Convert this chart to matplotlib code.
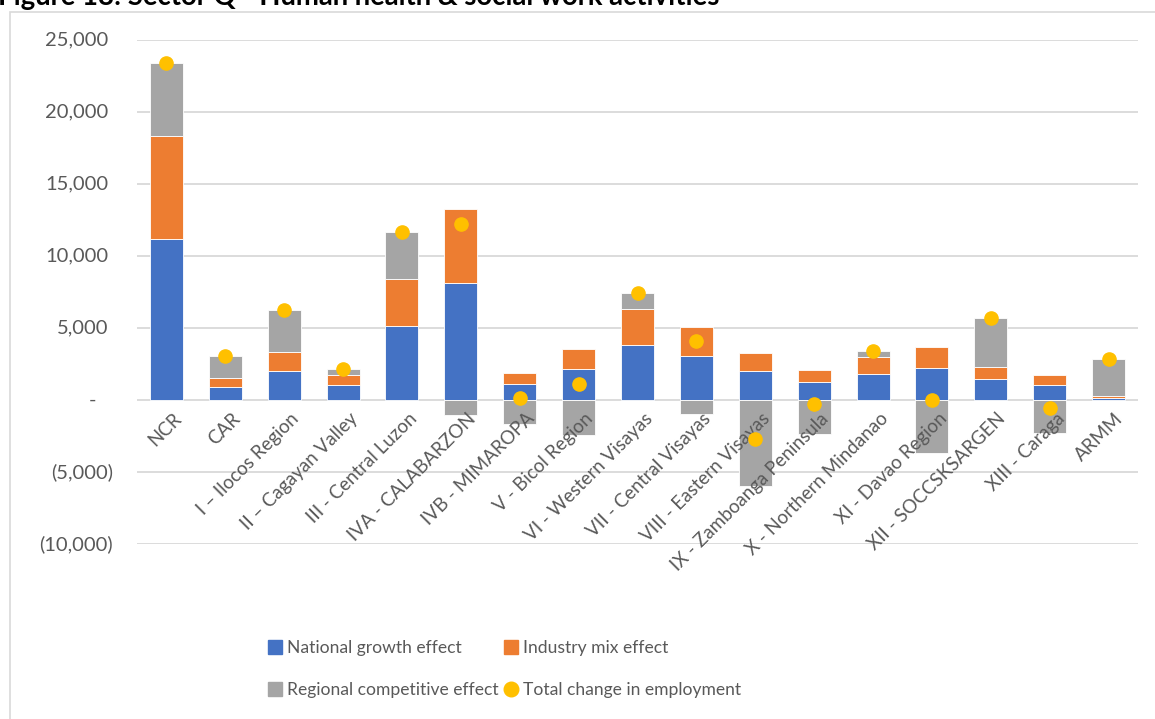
import matplotlib
matplotlib.use("Agg")
import matplotlib.pyplot as plt
import numpy as np
from matplotlib.lines import Line2D
from matplotlib.patches import Rectangle

categories = ["NCR", "CAR", "I – Ilocos Region", "II – Cagayan Valley", "III - Central Luzon",
              "IVA - CALABARZON", "IVB - MIMAROPA", "V - Bicol Region", "VI - Western Visayas",
              "VII - Central Visayas", "VIII - Eastern Visayas", "IX - Zamboanga Peninsula",
              "X - Northern Mindanao", "XI - Davao Region", "XII - SOCCSKSARGEN", "XIII - Caraga", "ARMM"]
national = [11200, 925, 2035, 1060, 5115, 8100, 1130, 2130, 3840, 3075, 1990, 1270, 1805, 2240, 1435, 1040, 160]
industry = [7140, 625, 1275, 675, 3260, 5155, 720, 1390, 2475, 1990, 1270, 810, 1155, 1460, 880, 695, 120]
regional = [5030, 1500, 2910, 415, 3265, -1040, -1690, -2410, 1135, -970, -5945, -2360, 440, -3680, 3400, -2315, 2565]
total = [23400, 3060, 6230, 2160, 11640, 12200, 170, 1110, 7460, 4100, -2680, -290, 3410, 20, 5720, -570, 2850]
yticks = [25000, 20000, 15000, 10000, 5000, 0, -5000, -10000]

series = [("National growth effect", national, "#4472C4"),
          ("Industry mix effect", industry, "#ED7D31"),
          ("Regional competitive effect", regional, "#A5A5A5")]

plt.rcParams['font.family'] = ['Lato', 'DejaVu Sans']
W, H = 1155, 719
fig = plt.figure(figsize=(W / 100, H / 100), dpi=100)
ax = fig.add_axes([137 / W, 1 - 544 / H, (1138 - 137) / W, (544 - 40) / H])

x = np.arange(len(categories))
pos_base = np.zeros(len(categories))
neg_base = np.zeros(len(categories))
for name, vals, col in series:
    v = np.array(vals, dtype=float)
    bottoms = np.where(v >= 0, pos_base, neg_base)
    ax.bar(x, v, bottom=bottoms, width=0.56, color=col, edgecolor="white", linewidth=0.6, zorder=3)
    pos_base = pos_base + np.where(v >= 0, v, 0)
    neg_base = neg_base + np.where(v < 0, v, 0)

ax.plot(x, total, linestyle="none", marker="o", markersize=9.5, color="#FFC000",
        markeredgecolor="#FFC000", zorder=5)

ax.set_xlim(-0.5, len(categories) - 0.5)
ax.set_ylim(-10000, 25000)
for yv in yticks:
    ax.axhline(yv, color="#D9D9D9", linewidth=1.3, zorder=1)
ax.set_yticks([])
ax.set_xticks([])
for s in ax.spines.values():
    s.set_visible(False)

tc = "#595959"
for yv in yticks:
    if yv > 0:
        lab, xo = f"{yv:,}", -29
    elif yv == 0:
        lab, xo = "-", -41
    else:
        lab, xo = f"({-yv:,})", -24
    ax.annotate(lab, xy=(0, yv), xycoords=("axes fraction", "data"), xytext=(xo, 0),
                textcoords="offset pixels", ha="right", va="center", fontsize=14.5, color=tc)

for i, c in enumerate(categories):
    ax.annotate(c, xy=(i, 0), xycoords="data", xytext=(6, -10), textcoords="offset pixels",
                ha="right", va="top", rotation=45, rotation_mode="anchor", fontsize=13.5, color=tc)

handles = [Line2D([], [], linestyle="none", marker="s", markersize=9.5, color="#4472C4"),
           Line2D([], [], linestyle="none", marker="s", markersize=9.5, color="#A5A5A5"),
           Line2D([], [], linestyle="none", marker="s", markersize=9.5, color="#ED7D31"),
           Line2D([], [], linestyle="none", marker="o", markersize=10.5, color="#FFC000")]
labels = ["National growth effect", "Regional competitive effect", "Industry mix effect",
          "Total change in employment"]
leg = fig.legend(handles, labels, ncol=2, loc="center", bbox_to_anchor=(505 / W, 1 - 669 / H),
                 frameon=False, fontsize=12.6, handlelength=0.7, handletextpad=0.3,
                 columnspacing=0.4, labelspacing=1.5, labelcolor=tc)

fig.add_artist(Rectangle((10 / W, -0.05), 1.2, 1 - 12 / H + 0.05, transform=fig.transFigure,
                         fill=False, edgecolor="#D9D9D9", linewidth=1.2))
fig.text(-2 / W, 1 - 5 / H, "Figure 18: Sector Q - Human health & social work activities",
         fontsize=19.8, fontweight="bold", color="black", ha="left", va="baseline")

fig.savefig("out.png", dpi=100)
